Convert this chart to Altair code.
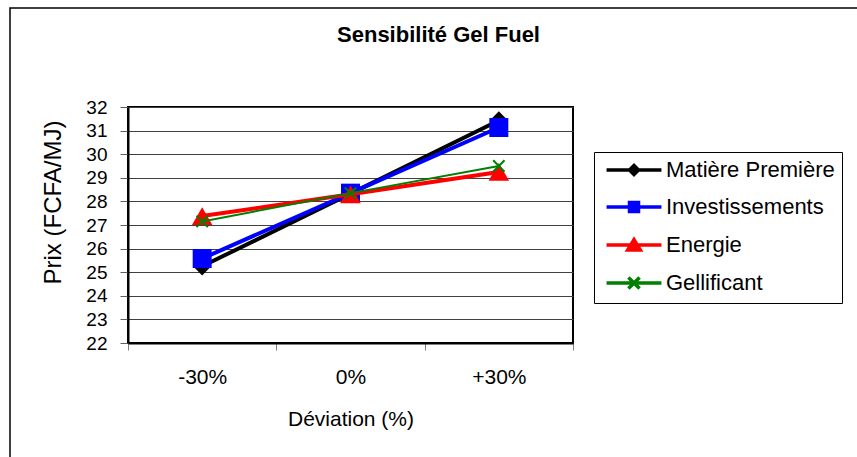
import altair as alt
import pandas as pd

categories = ["-30%", "0%", "+30%"]
series_names = ["Matière Première", "Investissements", "Energie", "Gellificant"]
matiere = [25.25, 28.33, 31.43]
investissements = [25.58, 28.35, 31.13]
energie = [27.38, 28.30, 29.25]
gellificant = [27.15, 28.35, 29.50]
y_ticks = list(range(22, 33))
colors = ["#000000", "#0000FF", "#FF0000", "#008000"]
fills = ["#000000", "#0000FF", "#FF0000", "transparent"]
line_widths = [4, 4, 4, 2]
legend_widths = [3.5, 3.5, 3.5, 2]

FONT = "Liberation Sans"

all_values = [matiere, investissements, energie, gellificant]
rows = []
for name, vals in zip(series_names, all_values):
    for cat, v in zip(categories, vals):
        rows.append({"dev": cat, "prix": v, "serie": name})
df = pd.DataFrame(rows)

x_enc = alt.X(
    "dev:N",
    sort=categories,
    bandPosition=0.5,
    scale=alt.Scale(type="band", domain=categories, paddingInner=0, paddingOuter=0),
    axis=alt.Axis(
        title="Déviation (%)",
        labelAngle=0,
        labelFontSize=21,
        labelFont=FONT,
        labelColor="black",
        labelPadding=16,
        tickBand="extent",
        tickSize=7,
        tickColor="#808080",
        domainColor="black",
        domainWidth=2,
        grid=False,
        titleFont=FONT,
        titleFontSize=21,
        titleFontWeight="normal",
        titleColor="black",
        titlePadding=21,
    ),
)
y_enc = alt.Y(
    "prix:Q",
    scale=alt.Scale(domain=[22, 32], nice=False, zero=False),
    axis=alt.Axis(
        title="Prix (FCFA/MJ)",
        values=y_ticks,
        format="d",
        labelFontSize=19,
        labelFont=FONT,
        labelColor="black",
        labelPadding=13,
        tickSize=8,
        tickColor="#606060",
        domainColor="black",
        domainWidth=2,
        grid=True,
        gridColor="#404040",
        gridWidth=1,
        titleFont=FONT,
        titleFontSize=24,
        titleFontWeight="normal",
        titleColor="black",
        titlePadding=20,
        titleY=95,
    ),
)

legend_paths = [
    "M-3.05,0L3.05,0M0,-0.5L0.5,0L0,0.5L-0.5,0Z",
    "M-3.05,0L3.05,0M-0.5,-0.5L0.5,-0.5L0.5,0.5L-0.5,0.5Z",
    "M-3.05,0L3.05,0M0,-0.6L0.7,0.55L-0.7,0.55Z",
    "M-3.05,0L3.05,0M-0.62,-0.62L0.62,0.62M-0.62,0.62L0.62,-0.62",
]


def make_legend():
    return alt.Legend(
        title=None,
        orient="none",
        legendX=466,
        legendY=45,
        padding=7,
        strokeColor="black",
        fillColor="white",
        labelFont=FONT,
        labelFontSize=22,
        labelColor="black",
        labelLimit=400,
        symbolSize=324,
        symbolOffset=22,
        labelOffset=21,
        rowPadding=13,
        symbolOpacity=1,
    )


base = alt.Chart(df)

legend_layer = base.mark_point(opacity=0, filled=False, size=10).encode(
    x=x_enc,
    y=y_enc,
    shape=alt.Shape("serie:N", sort=series_names,
                    scale=alt.Scale(domain=series_names, range=legend_paths),
                    legend=make_legend()),
    stroke=alt.Stroke("serie:N", sort=series_names,
                      scale=alt.Scale(domain=series_names, range=colors),
                      legend=make_legend()),
    fill=alt.Fill("serie:N", sort=series_names,
                  scale=alt.Scale(domain=series_names, range=fills),
                  legend=make_legend()),
    strokeWidth=alt.StrokeWidth("serie:N", sort=series_names,
                                scale=alt.Scale(domain=series_names, range=legend_widths),
                                legend=make_legend()),
)

series_layers = []
shapes = ["diamond", "square", "triangle-up", "M-1,-1L1,1M-1,1L1,-1"]
sizes = [330, 360, 420, 130]
for name, col, shp, sz, lw in zip(series_names, colors, shapes, sizes, line_widths):
    sub = base.transform_filter(alt.datum.serie == name)
    series_layers.append(
        sub.mark_line(color=col, strokeWidth=lw).encode(x=x_enc, y=y_enc)
    )
    if name != "Gellificant":
        m = sub.mark_point(shape=shp, size=sz, filled=True, color=col, opacity=1)
    else:
        m = sub.mark_point(shape=shp, size=sz, filled=False, color=col, strokeWidth=2, opacity=1)
    series_layers.append(m.encode(x=x_enc, y=y_enc))

border = alt.Chart(pd.DataFrame({"b": [0]})).mark_rect(
    fill="transparent", stroke="black", strokeWidth=1.5
).encode(
    x=alt.value(-118), x2=alt.value(780), y=alt.value(-99), y2=alt.value(380)
)

chart = alt.layer(border, legend_layer, *series_layers).properties(
    width=445,
    height=236,
    padding={"left": 128, "top": 107, "right": 284, "bottom": 114},
    autosize=alt.AutoSizeParams(type="none"),
    title=alt.TitleParams(
        text="Sensibilité Gel Fuel",
        font=FONT,
        fontSize=22,
        fontWeight="bold",
        color="black",
        anchor="middle",
        frame="group",
        dx=88,
        baseline="alphabetic",
        offset=-57,
    ),
    background="white",
).configure_view(stroke="black", strokeWidth=2)

chart.save("out.html", embed_options={"renderer": "svg", "actions": False})
